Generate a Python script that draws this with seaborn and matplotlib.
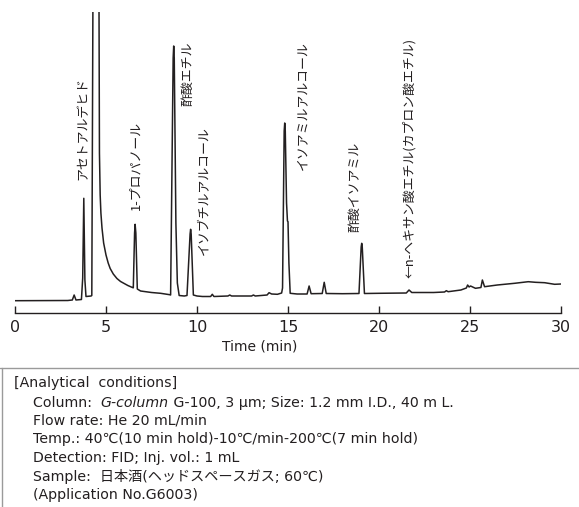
"""Headspace GC chromatogram of sake (G-column G-100), with the analytical conditions below."""
import matplotlib.pyplot as plt
import pandas as pd
import seaborn as sns
from matplotlib.lines import Line2D

# trace: retention time (min) and detector signal (a.u.)
time_min = [0.0, 2.9, 3.15, 3.25, 3.35, 3.65, 3.72, 3.78, 3.84, 3.9, 4.18,
            4.22, 4.30, 4.45, 4.60, 4.64, 4.68, 4.72, 4.78, 4.87, 5.0, 5.12,
            5.23, 5.4, 5.6, 5.8, 6.0, 6.2, 6.45, 6.50, 6.57, 6.60, 6.64,
            6.72, 6.9, 7.5, 8.0, 8.5, 8.55, 8.69, 8.72, 8.75, 8.84, 8.92,
            9.02, 9.3, 9.45, 9.62, 9.65, 9.68, 9.80, 10.0, 10.3, 10.75,
            10.84, 10.93, 11.7, 11.8, 11.9, 12.5, 13.0, 13.1, 13.2, 13.85,
            13.96, 14.1, 14.42, 14.65, 14.7, 14.79, 14.82, 14.85, 14.92,
            14.97, 15.0, 15.05, 15.12, 15.5, 16.05, 16.16, 16.27, 16.88,
            16.99, 17.1, 18.0, 18.9, 19.02, 19.05, 19.08, 19.2, 20.0, 21.5,
            21.65, 21.8, 23.0, 23.6, 23.7, 23.8, 24.5, 24.8, 24.87, 24.95,
            25.03, 25.3, 25.6, 25.68, 25.8, 26.5, 27.45, 28.2, 28.6, 29.1,
            29.65, 30.0]
signal = [12.3, 12.5, 13.0, 18.0, 13.0, 13.5, 35.0, 114.7, 33.0, 16.5, 17.0,
          17.5, 400.0, 650.0, 400.0, 160.0, 118.0, 100.0, 85.0, 70.0, 58.0,
          50.0, 44.5, 39.0, 34.5, 31.5, 29.5, 27.5, 25.5, 25.2, 80.0, 88.7,
          80.0, 24.0, 22.0, 20.5, 19.7, 18.3, 18.0, 255.0, 267.0, 255.0,
          90.0, 30.0, 17.5, 17.0, 17.5, 79.0, 83.7, 79.0, 18.0, 17.0, 16.5,
          16.5, 18.7, 16.5, 17.0, 18.0, 17.0, 17.0, 17.0, 18.0, 17.0, 18.0,
          20.3, 19.0, 18.7, 20.0, 25.0, 182.0, 190.0, 182.0, 110.0, 92.0,
          91.3, 50.0, 19.7, 19.0, 19.0, 27.0, 19.3, 19.5, 30.7, 19.5, 19.3,
          19.5, 66.0, 69.7, 66.0, 19.5, 19.7, 20.0, 23.0, 20.5, 20.5, 21.0,
          22.3, 21.3, 23.0, 25.0, 28.0, 26.0, 27.0, 24.7, 25.5, 33.0, 26.3,
          28.0, 29.7, 31.3, 30.7, 30.3, 28.7, 29.0]

peak_names = ["アセトアルデヒド", "1-プロパノール", "酢酸エチル",
              "イソブチルアルコール", "イソアミルアルコール", "酢酸イソアミル",
              "←n-ヘキサン酸エチル(カプロン酸エチル)"]
label_time = [3.75, 6.65, 9.52, 10.38, 15.8, 18.68, 21.65]
label_base = [133, 103, 207, 58, 143, 81, 35]

x_ticks = [0, 5, 10, 15, 20, 25, 30]

conditions_title = "[Analytical  conditions]"
column_parts = ["Column:  ", "G-column", " G-100, 3 μm; Size: 1.2 mm I.D., 40 m L."]
conditions = [
    "Flow rate: He 20 mL/min",
    "Temp.: 40℃(10 min hold)-10℃/min-200℃(7 min hold)",
    "Detection: FID; Inj. vol.: 1 mL",
    "Sample:  日本酒(ヘッドスペースガス; 60℃)",
    "(Application No.G6003)",
]

INK = "#231f20"
W, H = 579, 507

sns.set_theme(style="white")
plt.rcParams["font.family"] = ["DejaVu Sans", "Noto Sans CJK JP"]

fig = plt.figure(figsize=(W / 100, H / 100), dpi=100)
ax = fig.add_axes([15 / W, 1 - 313 / H, 546 / W, 301 / H])

df = pd.DataFrame({"time": time_min, "signal": signal})
sns.lineplot(data=df, x="time", y="signal", ax=ax, color=INK, linewidth=1.1,
             estimator=None, sort=False)

ax.set_xlim(0, 30)
ax.set_ylim(0, 301)
ax.set_xticks(x_ticks)
ax.set_yticks([])
ax.set_xlabel("")
ax.set_ylabel("")
for side in ["top", "right", "left"]:
    ax.spines[side].set_visible(False)
ax.spines["bottom"].set_color(INK)
ax.spines["bottom"].set_linewidth(1.0)
ax.tick_params(axis="x", direction="in", length=5, width=1.0, color=INK,
               labelsize=11.5, labelcolor=INK, pad=5, bottom=True)
ax.patch.set_visible(False)

for name, t, y in zip(peak_names, label_time, label_base):
    ax.text(t, y, name, rotation=90, ha="center", va="bottom", fontsize=9.3,
            color=INK, family=["Noto Sans CJK JP", "DejaVu Sans"])

fig.text(260 / W, 1 - 347 / H, "Time (min)", ha="center", va="center",
         fontsize=10, color=INK)

# conditions box: grey top rule and left edge
box_col = "#9a9a9a"
fig.add_artist(Line2D([0, 1], [1 - 368 / H] * 2, color=box_col, linewidth=1.0))
fig.add_artist(Line2D([1.5 / W] * 2, [0, 1 - 368 / H], color=box_col, linewidth=1.0))

fs = 10.2
fig.text(14 / W, 1 - 383 / H, conditions_title, ha="left", va="center",
         fontsize=fs, color=INK)

prev = fig.text(32.7 / W, 1 - 403.3 / H, column_parts[0], ha="left",
                va="center", fontsize=fs, color=INK)
for part, style in zip(column_parts[1:], ["italic", "normal"]):
    prev = ax.annotate(part, xy=(1, 0), xycoords=prev, ha="left", va="bottom",
                       fontsize=fs, color=INK, style=style, annotation_clip=False)

line_y = [421, 439.3, 458.3, 476.7, 495]
for text, y in zip(conditions, line_y):
    fig.text(32.7 / W, 1 - y / H, text, ha="left", va="center", fontsize=fs,
             color=INK)

fig.savefig("out.png", dpi=100)
